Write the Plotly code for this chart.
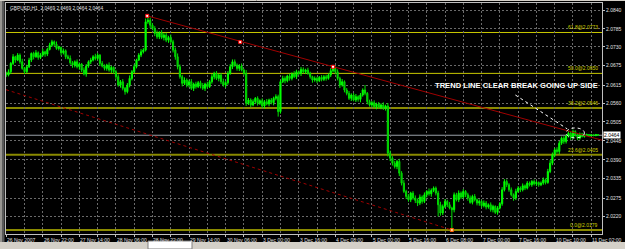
import plotly.graph_objects as go

# ---------------- data ----------------
closes = [
    2.0645, 2.0655, 2.0680, 2.0700, 2.0690, 2.0705, 2.0685, 2.0665, 2.0655, 2.0670,
    2.0690, 2.0710, 2.0700, 2.0712, 2.0698, 2.0705, 2.0715, 2.0708, 2.0722, 2.0735,
    2.0745, 2.0738, 2.0725, 2.0728, 2.0712, 2.0718, 2.0700, 2.0695, 2.0682, 2.0675,
    2.0685, 2.0670, 2.0678, 2.0660, 2.0648, 2.0672, 2.0685, 2.0690, 2.0700, 2.0695,
    2.0705, 2.0680, 2.0672, 2.0665, 2.0675, 2.0660, 2.0668, 2.0655, 2.0640, 2.0615,
    2.0625, 2.0605, 2.0595, 2.0615, 2.0635, 2.0655, 2.0670, 2.0690, 2.0705, 2.0715,
    2.0720, 2.0805, 2.0810, 2.0795, 2.0785, 2.0770, 2.0760, 2.0772, 2.0758, 2.0765,
    2.0750, 2.0758, 2.0745, 2.0720, 2.0700, 2.0670, 2.0640, 2.0620, 2.0630, 2.0615,
    2.0625, 2.0605, 2.0618, 2.0610, 2.0622, 2.0612, 2.0605, 2.0618, 2.0610, 2.0625,
    2.0640, 2.0650, 2.0635, 2.0645, 2.0625, 2.0615, 2.0622, 2.0650, 2.0670, 2.0685,
    2.0675, 2.0665, 2.0672, 2.0660, 2.0650, 2.0560, 2.0570, 2.0555, 2.0565, 2.0575,
    2.0560, 2.0568, 2.0552, 2.0565, 2.0558, 2.0570, 2.0562, 2.0575, 2.0580, 2.0535,
    2.0625, 2.0635, 2.0628, 2.0642, 2.0635, 2.0648, 2.0640, 2.0655, 2.0650, 2.0662,
    2.0655, 2.0660, 2.0650, 2.0640, 2.0630, 2.0635, 2.0628, 2.0638, 2.0632, 2.0640,
    2.0635, 2.0645, 2.0658, 2.0665, 2.0655, 2.0635, 2.0615, 2.0625, 2.0600, 2.0590,
    2.0575, 2.0585, 2.0570, 2.0580, 2.0572, 2.0585, 2.0600, 2.0590, 2.0565, 2.0555,
    2.0562, 2.0550, 2.0558, 2.0548, 2.0555, 2.0545, 2.0552, 2.0410, 2.0395, 2.0380,
    2.0370, 2.0385, 2.0350, 2.0320, 2.0295, 2.0280, 2.0270, 2.0290, 2.0275, 2.0268,
    2.0260, 2.0278, 2.0265, 2.0285, 2.0295, 2.0288, 2.0298, 2.0305, 2.0290, 2.0255,
    2.0230, 2.0250, 2.0265, 2.0255, 2.0245, 2.0240, 2.0285, 2.0270, 2.0290, 2.0278,
    2.0295, 2.0285, 2.0275, 2.0262, 2.0280, 2.0270, 2.0260, 2.0265, 2.0252, 2.0260,
    2.0248, 2.0255, 2.0240, 2.0250, 2.0232, 2.0245, 2.0258, 2.0300, 2.0325, 2.0315,
    2.0300, 2.0285, 2.0275, 2.0295, 2.0305, 2.0300, 2.0312, 2.0305, 2.0320, 2.0315,
    2.0325, 2.0318, 2.0322, 2.0315, 2.0320, 2.0330, 2.0322, 2.0355, 2.0380, 2.0405,
    2.0420, 2.0415, 2.0440, 2.0455, 2.0445, 2.0462, 2.0470, 2.0458, 2.0475, 2.0465,
    2.0455, 2.0468, 2.0460, 2.0464, 2.0466, 2.0462, 2.0465, 2.0463, 2.0466, 2.0464,
]
first_open = 2.0650

# estimated wick lengths (pips above body / below body), per bar
up_wick = [
    5, 7, 4, 8, 3, 6, 5, 9, 4, 6,
    7, 3, 5, 8, 4, 6, 9, 3, 5, 7,
    6, 4, 8, 5, 3, 7, 4, 6, 9, 5,
    4, 7, 5, 3, 8, 6, 4, 7, 5, 9,
    6, 3, 7, 5, 4, 8, 5, 3, 6, 7,
    5, 8, 4, 6, 9, 5, 7, 4, 6, 8,
    6, 10, 5, 8, 6, 7, 9, 5, 8, 6,
    7, 5, 9, 6, 8, 10, 7, 6, 8, 5,
    6, 8, 4, 7, 5, 6, 9, 4, 7, 5,
    8, 5, 7, 4, 6, 9, 5, 7, 8, 6,
    7, 5, 6, 8, 4, 10, 6, 5, 7, 4,
    6, 4, 7, 5, 8, 4, 6, 5, 7, 6,
    5, 8, 6, 4, 7, 5, 9, 6, 4, 7,
    6, 4, 7, 5, 3, 6, 5, 4, 7, 5,
    6, 5, 8, 4, 6, 7, 5, 8, 4, 6,
    7, 5, 6, 8, 4, 6, 5, 9, 4, 6,
    5, 7, 4, 6, 5, 8, 4, 9, 8, 6,
    7, 5, 8, 6, 9, 5, 7, 4, 6, 8,
    6, 8, 5, 7, 4, 9, 6, 8, 5, 7,
    9, 6, 7, 5, 8, 4, 7, 6, 8, 5,
    7, 4, 6, 8, 5, 7, 4, 6, 5, 8,
    6, 4, 7, 5, 3, 6, 5, 8, 7, 6,
    5, 7, 4, 8, 6, 5, 7, 4, 6, 5,
    4, 6, 5, 3, 5, 7, 4, 8, 9, 7,
    6, 8, 7, 5, 6, 4, 7, 5, 6, 4,
    5, 4, 3, 2, 3, 2, 3, 2, 2, 1,
]
dn_wick = [
    6, 4, 7, 5, 8, 3, 6, 4, 7, 5,
    4, 6, 8, 3, 7, 5, 4, 8, 6, 3,
    5, 7, 4, 6, 8, 5, 7, 3, 6, 8,
    7, 5, 9, 6, 4, 8, 5, 7, 4, 6,
    5, 8, 4, 6, 7, 5, 9, 6, 8, 5,
    8, 6, 9, 5, 7, 6, 4, 5, 3, 6,
    5, 4, 6, 9, 5, 8, 6, 7, 5, 9,
    6, 8, 5, 7, 9, 8, 6, 9, 5, 7,
    7, 5, 8, 6, 4, 7, 5, 8, 6, 4,
    6, 8, 5, 9, 7, 5, 8, 6, 4, 7,
    5, 7, 8, 4, 6, 8, 5, 7, 4, 6,
    7, 5, 6, 8, 4, 7, 5, 8, 6, 4,
    6, 4, 8, 5, 7, 6, 4, 7, 5, 8,
    5, 7, 4, 6, 8, 5, 7, 4, 6, 5,
    7, 4, 6, 5, 8, 6, 9, 5, 7, 6,
    5, 8, 4, 6, 7, 9, 5, 6, 8, 5,
    7, 5, 8, 4, 6, 5, 7, 10, 9, 7,
    6, 8, 9, 7, 5, 8, 6, 7, 5, 8,
    9, 6, 7, 5, 8, 6, 9, 5, 7, 10,
    8, 6, 5, 7, 4, 6, 8, 5, 7, 6,
    5, 7, 8, 4, 6, 5, 7, 8, 6, 5,
    7, 5, 6, 8, 5, 7, 4, 6, 5, 7,
    6, 5, 8, 6, 4, 7, 5, 6, 4, 5,
    6, 5, 7, 6, 4, 5, 6, 4, 5, 6,
    7, 6, 8, 5, 7, 6, 5, 8, 6, 5,
    6, 4, 3, 3, 2, 2, 2, 2, 2, 1,
]

spike_bars = [62, 99, 119, 143, 157, 187, 189, 195]
spike_high = [2.0823, 2.0692, None, 2.0670, 2.0615, 2.0310, None, None]
spike_low = [None, None, 2.0520, None, None, None, 2.0220, 2.0179]

time_label_bars = [0, 16, 32, 48, 64, 80, 96, 112, 128, 144, 160, 176, 192, 208, 224, 240, 256]
time_labels = ["26 Nov 2007", "26 Nov 22:00", "27 Nov 14:00", "28 Nov 06:00", "28 Nov 22:00",
               "29 Nov 14:00", "30 Nov 06:00", "3 Dec 00:00", "3 Dec 16:00", "4 Dec 08:00",
               "5 Dec 00:00", "5 Dec 16:00", "6 Dec 08:00", "7 Dec 00:00", "7 Dec 16:00",
               "10 Dec 10:00", "11 Dec 02:00"]
grid_bars = list(range(0, 261, 8))

price_ticks = [2.0840, 2.0785, 2.0730, 2.0675, 2.0615, 2.0560, 2.0505, 2.0448,
               2.0390, 2.0335, 2.0275, 2.0220, 2.0165]

fib_levels = [2.0773, 2.0650, 2.0546, 2.0405, 2.0179]
fib_names = ["61.8", "50.0", "38.2", "23.6", "0.0"]
fib_colors = ["#c8c800", "#c8c800", "#8a8a00", "#8a8a00", "#8a8a00"]
fib_widths = [1, 1, 2, 2, 2]

bid_price = 2.0464
title_text = "GBPUSD,H1  2.0469 2.0469 2.0464 2.0464"

# drawn objects (in bar index / price)
trend_x = [61.7, 260.8]
trend_y = [2.0823, 2.0449]
trend_marks_x = [61.7, 102.4, 143.0]
trend_marks_y = [2.0823, 2.0744, 2.0670]
chan_x = [-0.1, 195.0]
chan_y = [2.0601, 2.0179]
low_mark_x = [195.0]
low_mark_y = [2.0179]
arrow_x = [222.8, 245.5]
arrow_y = [2.0585, 2.0483]
circle_box = [245.0, 2.0456, 253.0, 2.0486]
note_text = "TREND LINE CLEAR BREAK GOING UP SIDE"
note_x, note_y = 186.9, 2.0613

# ---------------- build OHLC ----------------
PIP = 0.0001
bars = list(range(len(closes)))
opens = [first_open] + closes[:-1]
highs = [max(o, c) + u * PIP for o, c, u in zip(opens, closes, up_wick)]
lows = [min(o, c) - d * PIP for o, c, d in zip(opens, closes, dn_wick)]
for b, h, l in zip(spike_bars, spike_high, spike_low):
    if h is not None:
        highs[b] = h
    if l is not None:
        lows[b] = l

# ---------------- figure ----------------
W, H = 625, 249
ML, MR, MT, MB = 6, 23, 3, 15
PW, PH = W - ML - MR, H - MT - MB


def px_x(px):
    return (px - ML) / PW


def px_y(py):
    return (H - MB - py) / PH


fig = go.Figure()

fig.add_trace(go.Candlestick(
    x=bars, open=opens, high=highs, low=lows, close=closes,
    increasing=dict(line=dict(color="#00ff00", width=1), fillcolor="#00ff00"),
    decreasing=dict(line=dict(color="#00e000", width=1), fillcolor="#00a000"),
    whiskerwidth=0, showlegend=False, hoverinfo="skip",
))

# upper trend line
fig.add_trace(go.Scatter(x=trend_x, y=trend_y, mode="lines",
                         line=dict(color="#a00000", width=1), showlegend=False, hoverinfo="skip"))
# lower dotted line
fig.add_trace(go.Scatter(x=chan_x, y=chan_y, mode="lines",
                         line=dict(color="#a00000", width=1, dash="dot"), showlegend=False, hoverinfo="skip"))
# white dotted pointer
fig.add_trace(go.Scatter(x=arrow_x, y=arrow_y, mode="lines",
                         line=dict(color="#ffffff", width=1, dash="dot"), showlegend=False, hoverinfo="skip"))
# anchor marks
fig.add_trace(go.Scatter(x=trend_marks_x, y=trend_marks_y, mode="markers",
                         marker=dict(symbol="square", size=3, color="#ffffff", line=dict(color="#ff0000", width=1)),
                         showlegend=False, hoverinfo="skip"))
fig.add_trace(go.Scatter(x=low_mark_x, y=low_mark_y, mode="markers",
                         marker=dict(symbol="square", size=3, color="#ffd0a0", line=dict(color="#ff6000", width=1)),
                         showlegend=False, hoverinfo="skip"))

shapes = []
# fib lines
for lv, col, wd in zip(fib_levels, fib_colors, fib_widths):
    shapes.append(dict(type="line", xref="paper", yref="y", x0=0, x1=1, y0=lv, y1=lv,
                       line=dict(color=col, width=wd), layer="below"))
# bid line
shapes.append(dict(type="line", xref="paper", yref="y", x0=0, x1=1, y0=bid_price, y1=bid_price,
                   line=dict(color="#9aa0a8", width=1), layer="below"))
# circle
shapes.append(dict(type="circle", xref="x", yref="y", x0=circle_box[0], y0=circle_box[1],
                   x1=circle_box[2], y1=circle_box[3], line=dict(color="#ffffff", width=1, dash="dot")))
# window frame: left strip, top line, bottom tab bar
shapes.append(dict(type="rect", xref="paper", yref="paper", x0=px_x(0), x1=px_x(4.5), y0=px_y(249), y1=px_y(0),
                   fillcolor="#5a5a5a", line=dict(width=0), layer="below"))
shapes.append(dict(type="line", xref="paper", yref="paper", x0=px_x(1), x1=px_x(1), y0=px_y(249), y1=px_y(0),
                   line=dict(color="#d4d0c8", width=1)))
shapes.append(dict(type="line", xref="paper", yref="paper", x0=px_x(0), x1=px_x(625), y0=px_y(0.5), y1=px_y(0.5),
                   line=dict(color="#d4d0c8", width=1)))
shapes.append(dict(type="rect", xref="paper", yref="paper", x0=px_x(0), x1=px_x(625), y0=px_y(249), y1=px_y(242),
                   fillcolor="#d4d0c8", line=dict(width=0)))
shapes.append(dict(type="rect", xref="paper", yref="paper", x0=px_x(148), x1=px_x(192), y0=px_y(249), y1=px_y(241),
                   fillcolor="#ffffff", line=dict(color="#808080", width=1)))

annotations = []
# time labels
for b, t in zip(time_label_bars, time_labels):
    annotations.append(dict(x=b, y=0, xref="x", yref="paper", text=t, showarrow=False,
                            xanchor="left", yanchor="top", xshift=-1, yshift=-1,
                            font=dict(family="Liberation Sans", size=5, color="#e0e0e0")))
# price labels
for p in price_ticks:
    annotations.append(dict(x=1, y=p, xref="paper", yref="y", text=f"{p:.4f}", showarrow=False,
                            xanchor="left", yanchor="middle", xshift=2,
                            font=dict(family="Liberation Sans", size=5, color="#e0e0e0")))
# fib labels
for lv, nm, col in zip(fib_levels, fib_names, fib_colors):
    annotations.append(dict(x=1, y=lv, xref="paper", yref="y", text=f"{nm}@{lv:.4f}", showarrow=False,
                            xanchor="right", yanchor="bottom", xshift=-2, yshift=0,
                            font=dict(family="Liberation Sans", size=5, color="#d0d000")))
# bid box
annotations.append(dict(x=1, y=bid_price, xref="paper", yref="y", text=f"{bid_price:.4f}", showarrow=False,
                        xanchor="left", yanchor="middle", xshift=1, bgcolor="#ffffff", borderpad=0,
                        font=dict(family="Liberation Sans", size=5, color="#000000")))
# title
annotations.append(dict(x=0, y=1, xref="paper", yref="paper", text=title_text, showarrow=False,
                        xanchor="left", yanchor="top", xshift=2, yshift=-1,
                        font=dict(family="Liberation Sans", size=4.8, color="#e0e0e0")))
# note
annotations.append(dict(x=note_x, y=note_y, xref="x", yref="y", text=f"<b>{note_text}</b>", showarrow=False,
                        xanchor="left", yanchor="middle",
                        font=dict(family="Liberation Sans", size=7.6, color="#ffffff")))

fig.update_layout(
    width=W, height=H,
    margin=dict(l=ML, r=MR, t=MT, b=MB, pad=0),
    paper_bgcolor="#000000", plot_bgcolor="#000000",
    showlegend=False,
    shapes=shapes, annotations=annotations,
    xaxis=dict(range=[-0.1, 260.7], rangeslider=dict(visible=False), tickvals=grid_bars,
               showticklabels=False, showgrid=True, gridcolor="#6a6a6a", griddash="2px,2px", gridwidth=1,
               zeroline=False, showline=True, mirror=True, linecolor="#c0c0c0", linewidth=1,
               ticks="outside", ticklen=2, tickcolor="#c0c0c0", fixedrange=True),
    yaxis=dict(range=[2.01670, 2.08617], side="right", tickvals=price_ticks,
               showticklabels=False, showgrid=True, gridcolor="#6a6a6a", griddash="2px,2px", gridwidth=1,
               zeroline=False, showline=True, mirror=True, linecolor="#c0c0c0", linewidth=1,
               ticks="outside", ticklen=2, tickcolor="#c0c0c0", fixedrange=True),
)

fig.write_html("out.html")
